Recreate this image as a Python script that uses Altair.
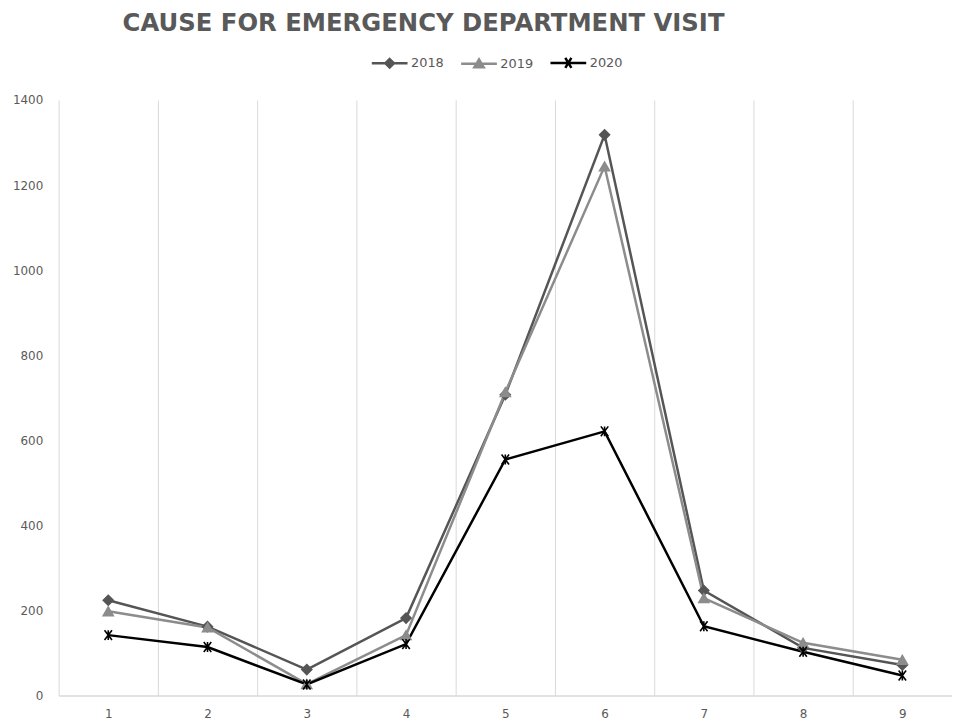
import altair as alt
import pandas as pd

categories = [1, 2, 3, 4, 5, 6, 7, 8, 9]
years = ["2018", "2019", "2020"]
v2018 = [224, 162, 61, 182, 707, 1318, 247, 112, 72]
v2019 = [198, 160, 27, 142, 713, 1244, 229, 124, 84]
v2020 = [142, 114, 26, 121, 555, 621, 163, 103, 47]

series = {"2018": v2018, "2019": v2019, "2020": v2020}
rows = []
for y in years:
    for c, v in zip(categories, series[y]):
        rows.append({"cat": c, "year": y, "value": v})
df = pd.DataFrame(rows)

colors = ["#555555", "#8c8c8c", "#000000"]
plot_shapes = ["diamond", "triangle-up", "M-0.75,-1L0.75,1M0.75,-1L-0.75,1M0,-1L0,1"]
legend_shapes = [
    "M-1,0H1M0,-0.24L0.24,0L0,0.24L-0.24,0Z",
    "M-1,0H1M0,-0.24L0.26,0.2L-0.26,0.2Z",
    "M-1,0H1M-0.17,-0.28L0.17,0.28M0.17,-0.28L-0.17,0.28",
]

grey = "#595959"
font = "DejaVu Sans"

x_enc = alt.X(
    "cat:O",
    bandPosition=0.5,
    scale=alt.Scale(type="band", paddingInner=0, paddingOuter=0),
    axis=alt.Axis(
        title=None, labelAngle=0, tickBand="extent", grid=True, gridColor="#d9d9d9",
        gridWidth=1, ticks=False, domain=True, domainColor="#d9d9d9", domainWidth=1.5,
        labelFont=font, labelFontSize=12, labelColor=grey, labelPadding=13,
    ),
)
y_enc = alt.Y(
    "value:Q",
    scale=alt.Scale(domain=[0, 1400]),
    axis=alt.Axis(
        title=None, values=[0, 200, 400, 600, 800, 1000, 1200, 1400], format="d",
        grid=False, ticks=False, domain=False, labelFont=font, labelFontSize=12,
        labelColor=grey, labelPadding=16,
    ),
)

def cscale():
    return alt.Scale(domain=years, range=colors)

base = alt.Chart(df).encode(x=x_enc, y=y_enc)

lines = base.mark_line(strokeWidth=2.5).encode(
    stroke=alt.Stroke("year:N", scale=cscale(), legend=None),
    detail="year:N",
)

points = base.mark_point(filled=True, size=100, strokeWidth=1.6, opacity=1).encode(
    fill=alt.Fill("year:N", scale=cscale(), legend=None),
    stroke=alt.Stroke("year:N", scale=cscale(), legend=None),
    shape=alt.Shape("year:N", scale=alt.Scale(domain=years, range=plot_shapes), legend=None),
)

leg = alt.Legend(
    title=None, orient="none", legendX=314, legendY=-57, direction="horizontal",
    labelFont=font, labelFontSize=13, labelColor=grey, labelOffset=2,
    symbolSize=1296, symbolStrokeWidth=2.5, symbolOpacity=1, columnPadding=11,
)

legend_layer = base.mark_point(filled=True, size=100, strokeWidth=2.5, opacity=1).encode(
    fill=alt.Fill("year:N", scale=cscale(), legend=leg),
    stroke=alt.Stroke("year:N", scale=cscale(), legend=leg),
    shape=alt.Shape("year:N", scale=alt.Scale(domain=years, range=legend_shapes), legend=leg),
).transform_filter("datum.value < 0")

chart = alt.layer(lines, points, legend_layer).resolve_scale(
    stroke="independent", fill="independent", shape="independent"
).properties(
    width=900,
    height=600,
    autosize=alt.AutoSizeParams(type="none"),
    padding={"left": 51, "top": 90, "right": 0, "bottom": 23},
    title=alt.TitleParams(
        "CAUSE FOR EMERGENCY DEPARTMENT VISIT", anchor="start", dx=111,
        font=font, fontSize=24.5, fontWeight="bold", color=grey, offset=0,
        baseline="alphabetic", dy=12,
    ),
).configure_view(stroke=None)

chart.save("out.html", embed_options={"renderer": "svg", "actions": False})
